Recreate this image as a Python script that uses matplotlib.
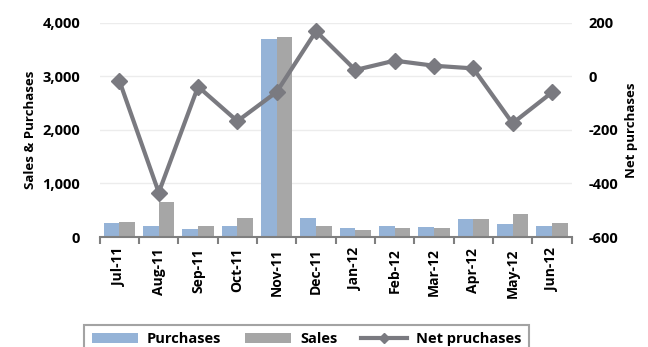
import numpy as np
import matplotlib.pyplot as plt

plt.rcParams['font.family'] = ['Open Sans', 'DejaVu Sans']
plt.rcParams['font.weight'] = 'bold'
plt.rcParams['axes.unicode_minus'] = False

months = ['Jul-11', 'Aug-11', 'Sep-11', 'Oct-11', 'Nov-11', 'Dec-11',
          'Jan-12', 'Feb-12', 'Mar-12', 'Apr-12', 'May-12', 'Jun-12']
purchases = [263, 200, 157, 200, 3690, 364, 163, 213, 181, 344, 238, 200]
sales = [282, 660, 207, 364, 3745, 200, 138, 163, 163, 331, 438, 256]
net_purchases = [-17, -434, -38, -167, -58, 169, 24, 59, 40, 30, -175, -60]

fig = plt.figure(figsize=(6.48, 3.47), dpi=100)
ax = fig.add_axes([0.154, 0.317, 0.728, 0.617])
x = np.arange(len(months))
w = 0.4

ax.bar(x - w/2, purchases, w, color='#95b3d7', label='Purchases', zorder=2)
ax.bar(x + w/2, sales, w, color='#a6a6a6', label='Sales', zorder=2)
ax.set_ylim(0, 4000)
ax.set_yticks([0, 1000, 2000, 3000, 4000])
ax.set_yticklabels(['0', '1,000', '2,000', '3,000', '4,000'])
ax.set_xlim(-0.5, len(months) - 0.5)
ax.set_xticks(x)
ax.set_xticklabels(months, rotation=90, fontsize=10)
ax.set_xticks(np.arange(-0.5, len(months)), minor=True)
ax.tick_params(axis='x', which='major', length=0, pad=8)
ax.tick_params(axis='x', which='minor', length=5, width=1.5, color='#7f7f7f')
ax.tick_params(axis='y', length=0, labelsize=10.5, pad=14)
ax.set_ylabel('Sales & Purchases', fontsize=9.5, fontweight='bold', labelpad=4)
ax.grid(axis='y', color='#ececec', linewidth=1, zorder=0)
for s in ['top', 'right', 'left']:
    ax.spines[s].set_visible(False)
ax.spines['bottom'].set_color('#7f7f7f')
ax.spines['bottom'].set_linewidth(1.5)

ax2 = ax.twinx()
ax2.plot(x, net_purchases, color='#7a7a80', marker='D', markersize=8,
         linewidth=3, label='Net pruchases', zorder=3)
ax2.set_ylim(-600, 200)
ax2.set_yticks([-600, -400, -200, 0, 200])
ax2.tick_params(axis='y', length=0, labelsize=10.5, pad=12)
ax2.set_ylabel('Net purchases', fontsize=9.5, fontweight='bold', labelpad=5)
for s in ax2.spines.values():
    s.set_visible(False)

h1, l1 = ax.get_legend_handles_labels()
h2, l2 = ax2.get_legend_handles_labels()
leg = fig.legend(h1 + h2, l1 + l2, ncol=3, loc='lower center',
                 bbox_to_anchor=(0.473, -0.04), fontsize=10.5, frameon=True,
                 fancybox=False, handlelength=3.2, columnspacing=1.6,
                 handletextpad=0.6, borderpad=0.5, markerscale=0.7)
leg.get_frame().set_edgecolor('#8c8c8c')
leg.get_frame().set_linewidth(1.5)

fig.savefig('out.png', dpi=100)
